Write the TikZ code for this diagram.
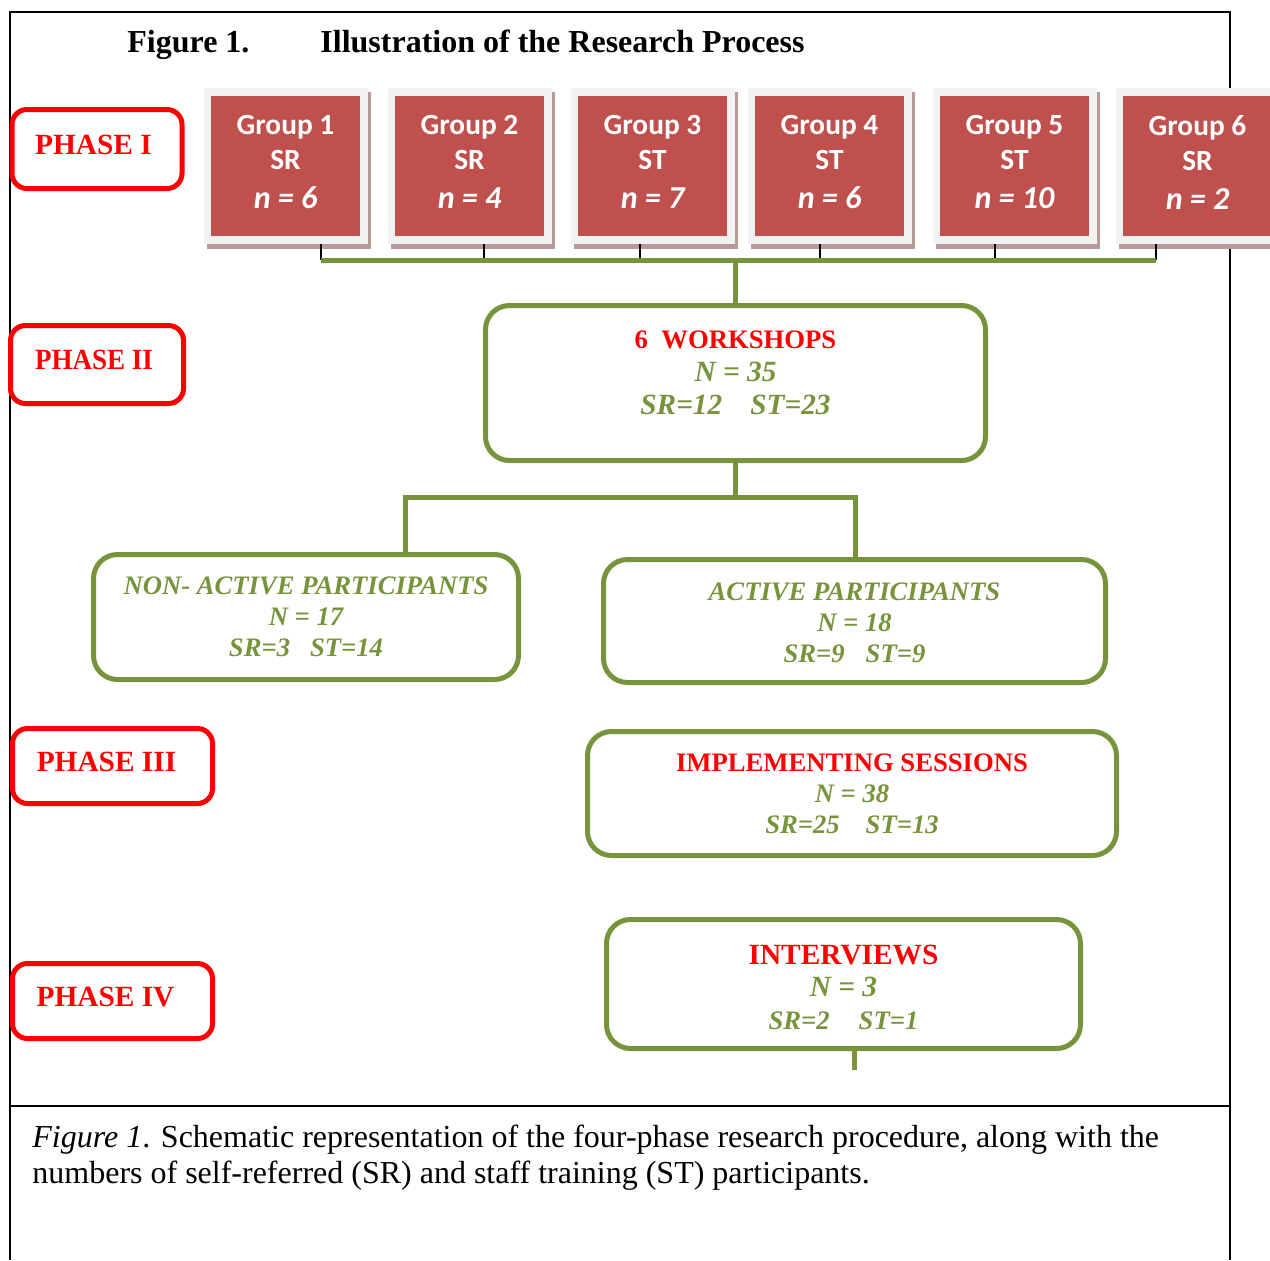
\documentclass[tikz,border=0pt]{standalone}
\usepackage{fontspec}
\setmainfont{Liberation Serif}
\newfontfamily\calibri{Carlito}
\definecolor{grn}{HTML}{77933C}
\definecolor{phred}{HTML}{FF0000}
\definecolor{grpred}{HTML}{C0504D}
\definecolor{framec}{HTML}{F2F2F2}
\definecolor{shadowc}{HTML}{B99A9A}
\tikzset{
  frameline/.style={draw=black, line width=1pt},
  phase/.style={draw=phred, line width=2.5pt, rounded corners=7.5pt, text=phred,
    font=\fontsize{14.67}{17}\selectfont\bfseries, inner sep=0pt},
  gbox/.style={draw=grn, line width=2.5pt, rounded corners=12pt, text=grn, align=center,
    inner sep=0pt, font=\fontsize{13.33}{15.4}\selectfont\bfseries\itshape},
  gtext/.style={text=grn, align=center, inner sep=0pt},
  grp/.style={fill=grpred, inner sep=0pt, minimum width=74.5pt, minimum height=70pt},
  grptext/.style={text=white, align=center, inner sep=0pt,
    font=\calibri\fontsize{14.67}{17.5}\selectfont\bfseries},
  bus/.style={draw=grn, line width=2.5pt},
  tickline/.style={draw=black, line width=1pt}
}
\begin{document}
\begin{tikzpicture}[x=0.5pt,y=-0.5pt]
\useasboundingbox (0,0) rectangle (1270,1260);
% outer frame
\draw[frameline] (10,1260) -- (10,12) -- (1230,12) -- (1230,1260);
\draw[frameline] (10,1106) -- (1230,1106);
% title
\node[anchor=base west, inner sep=0pt, font=\fontsize{16}{19}\selectfont\bfseries] (title) at (127,52)
  {Figure 1.\hspace{35.5pt}Illustration of the Research Process};
% groups
\foreach \i/\cx/\t/\n in {1/285.5/SR/6, 2/469.5/SR/4, 3/652.5/ST/7, 4/829.5/ST/6, 5/1014.5/ST/10, 6/1197.5/SR/2} {
  \fill[shadowc] (\cx-78.5,92) rectangle (\cx+85,249);
  \fill[framec] (\cx-82,88) rectangle (\cx+82,244);
  \node[grp] (g\i) at (\cx,166) {};
  \node[grptext] (gt\i) at ([yshift=2pt]g\i.center) {Group \i\\\t\\[2pt]{\fontsize{16}{19}\selectfont\itshape n = \n}};
}
% phases
\node[phase, minimum width=85pt, minimum height=39.5pt] (p1) at (97,149) {\raisebox{4.5pt}{PHASE I}\kern3.5pt};
\node[phase, minimum width=86.5pt, minimum height=39pt] (p2) at (97,364.5) {\raisebox{5pt}{\scalebox{0.92}[1]{PHASE II}}\kern3pt};
\node[phase, minimum width=100pt, minimum height=37.5pt] (p3) at (112.5,766) {\raisebox{4pt}{PHASE III}\kern6pt};
\node[phase, minimum width=100pt, minimum height=37.5pt] (p4) at (112.5,1001) {\raisebox{4pt}{PHASE IV}\kern7pt};
% green boxes
\node[gbox, minimum width=250pt, minimum height=77.5pt] (ws) at (735.5,383) {};
\node[gtext, font=\fontsize{14.67}{16.5}\selectfont\bfseries\itshape] (wst) at ([yshift=5pt]ws.center)
  {{\fontsize{13.33}{16.5}\selectfont\upshape\color{phred}6\hspace{6.7pt}WORKSHOPS}\\N = 35\\SR=12\hspace{14pt}ST=23};
\node[gbox, minimum width=212.5pt, minimum height=62.5pt] (na) at (306,617)
  {NON- ACTIVE PARTICIPANTS\\N = 17\\SR=3\hspace{10pt}ST=14};
\node[gbox, minimum width=251pt, minimum height=61.5pt] (ap) at (854.5,621) {};
\node[gtext, font=\fontsize{13.33}{15.4}\selectfont\bfseries\itshape] (apt) at ([yshift=-1pt]ap.center)
  {ACTIVE PARTICIPANTS\\N = 18\\SR=9\hspace{10.5pt}ST=9};
\node[gbox, minimum width=264.5pt, minimum height=62pt] (im) at (852,793.5)
  {{\upshape\color{phred}IMPLEMENTING SESSIONS}\\N = 38\\SR=25\hspace{13pt}ST=13};
\node[gbox, minimum width=237pt, minimum height=64.5pt] (iv) at (843.5,984) {};
\node[gtext, font=\fontsize{14.67}{16.3}\selectfont\bfseries\itshape] (ivt) at ([yshift=-1.5pt]iv.center)
  {{\upshape\color{phred}INTERVIEWS}\\N = 3\\{\fontsize{13.33}{16.3}\selectfont SR=2\hspace{14.5pt}ST=1}};
% ticks and bus
\foreach \i/\tx in {1/321, 2/484, 3/640, 4/820, 5/995, 6/1156} {
  \coordinate (t\i) at (\tx,260);
  \path ([yshift=-4pt]g\i.south) coordinate (gb\i);
  \draw[tickline] (t\i |- gb\i) -- (t\i);
}
\draw[bus] (t1) -- (t6);
\draw[bus] (ws.north) -- (ws.north |- t1);
\coordinate (bl) at (405,497);
\coordinate (br) at (855,497);
\draw[bus] (ws.south) -- (ws.south |- bl);
\draw[bus] (bl |- na.north) -- (bl) -- (br) -- (br |- ap.north);
\coordinate (ist) at (854,1070);
\draw[bus] (ist |- iv.south) -- (ist);
% caption
\node[anchor=west, align=left, inner sep=0pt, font=\fontsize{16}{18}\selectfont] (cap) at (32,1158)
  {\textit{Figure 1}. Schematic representation of the four-phase research procedure, along with the\\numbers of self-referred (SR) and staff training (ST) participants.};
\end{tikzpicture}
\end{document}
